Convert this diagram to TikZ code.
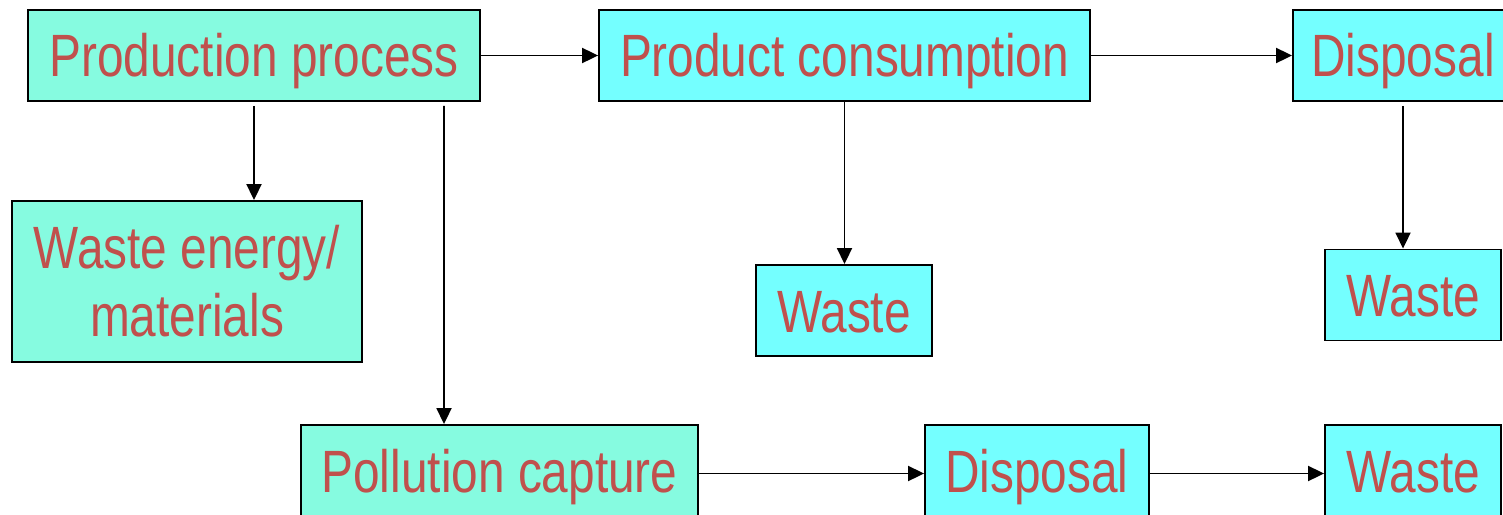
\documentclass[tikz,border=0pt]{standalone}
\usepackage{fontspec}
\setmainfont{Liberation Sans}[FakeStretch=0.8]
\usetikzlibrary{arrows.meta}
\definecolor{mint}{RGB}{134,251,224}
\definecolor{aqua}{RGB}{116,255,255}
\definecolor{label}{RGB}{192,80,77}
\begin{document}
\begin{tikzpicture}[x=0.02cm,y=-0.02cm,
  box/.style={draw=black,line width=1.1pt,text=label,
    font=\fontsize{34}{39}\selectfont,inner sep=0pt,
    minimum height=1.82cm,text height=0.86cm,text depth=0cm},
  stage/.style={box,fill=mint},
  sink/.style={box,fill=aqua},
  arr/.style={-{Triangle[length=0.32cm,width=0.3cm]},line width=1.1pt}]
  \clip (0,0) rectangle (1503,514);
  \fill[white] (0,0) rectangle (1503,514);
  % top row
  \node[stage,minimum width=9.04cm] (prod) at (254,55.5) {Production process};
  \node[sink,minimum width=9.82cm] (cons) at (844.5,55.5) {Product consumption};
  \node[sink,minimum width=4.4cm] (disp) at (1403,55.5) {Disposal};
  % middle row
  \node[stage,minimum width=7cm,minimum height=3.22cm,align=center,
    text height=2.22cm] (energy) at (187,281.5) {Waste energy/\\materials};
  \node[sink,minimum width=3.52cm] (wmid) at (844,310.5) {Waste};
  \node[sink,minimum width=3.52cm] (wright) at (1413,295) {Waste};
  % bottom row
  \node[stage,minimum width=7.94cm] (capture) at (499.5,470.5) {Pollution capture};
  \node[sink,minimum width=4.48cm] (disp2) at (1037,470.5) {Disposal};
  \node[sink,minimum width=3.52cm] (wbot) at (1413,470.5) {Waste};
  % flows
  \draw[arr] (prod.east) -- (cons.west);
  \draw[arr] (cons.east) -- (disp.west);
  \draw[arr,shorten <=0.08cm] (prod.south) -- (prod.south |- energy.north);
  \draw[arr,shorten <=0.08cm] ([xshift=3.8cm]prod.south) -- ([xshift=-1.11cm]capture.north);
  \draw[arr] (cons.south) -- (cons.south |- wmid.north);
  \draw[arr,shorten <=0.08cm] (disp.south) -- (disp.south |- wright.north);
  \draw[arr] ([yshift=-0.06cm]capture.east) -- ([yshift=-0.06cm]disp2.west);
  \draw[arr] ([yshift=-0.06cm]disp2.east) -- ([yshift=-0.06cm]wbot.west);
\end{tikzpicture}
\end{document}
